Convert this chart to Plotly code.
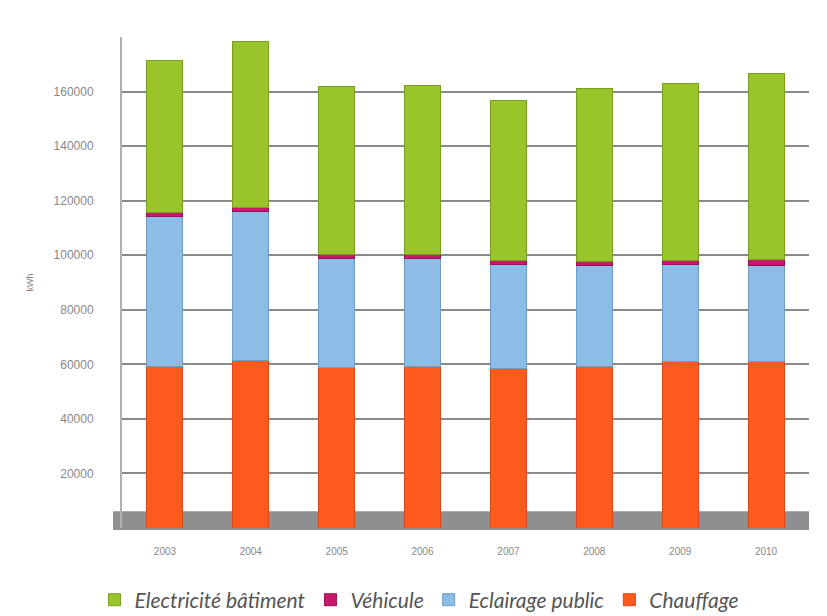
import plotly.graph_objects as go

years = ["2003", "2004", "2005", "2006", "2007", "2008", "2009", "2010"]
chauffage = [59300, 61500, 59000, 59300, 58500, 59300, 61100, 61100]
eclairage = [54900, 54500, 39900, 39600, 38200, 37100, 35600, 35300]
vehicule = [1400, 1500, 1300, 1300, 1500, 1300, 1400, 2000]
electricite = [55700, 61000, 61600, 62000, 58500, 63300, 64800, 68100]

y_ticks = [20000, 40000, 60000, 80000, 100000, 120000, 140000, 160000]
y_tick_text = ["20000", "40000", "60000", "80000", "100000", "120000", "140000", "160000"]

series = [
    ("Chauffage", chauffage, "#FF5A1E", "#D9471A"),
    ("Eclairage public", eclairage, "#8CBDE6", "#6E9CC2"),
    ("Véhicule", vehicule, "#C8186E", "#9A1256"),
    ("Electricité bâtiment", electricite, "#99C42A", "#7A9E20"),
]

fig = go.Figure()
for name, vals, col, edge in series:
    fig.add_trace(go.Bar(
        x=years, y=vals, name=name,
        marker=dict(color=col, line=dict(color=edge, width=1)),
        width=0.42,
    ))

# grey "floor" band under the bars
fig.add_shape(
    type="rect", xref="x domain", yref="y domain",
    x0=-0.013, x1=1, y0=-0.004, y1=0.034,
    fillcolor="#8f8f8f", line=dict(width=0), layer="below",
)

fig.update_layout(
    barmode="stack",
    width=827, height=616,
    margin=dict(l=122, r=18, t=37, b=88, autoexpand=False),
    paper_bgcolor="white",
    plot_bgcolor="white",
    font=dict(family="Liberation Sans, Arial, sans-serif", color="#888"),
    legend=dict(
        orientation="h", xref="paper", x=-0.04, xanchor="left",
        y=-0.105, yanchor="top",
        traceorder="reversed",
        font=dict(family="Lato, sans-serif", size=21, color="#555", style="italic"),
        itemwidth=30,
    ),
)
fig.update_yaxes(
    range=[0, 180000], tickvals=y_ticks, ticktext=y_tick_text,
    tickfont=dict(size=12, color="#888"),
    showgrid=True, gridcolor="#8a8a8a", gridwidth=2,
    showline=True, linecolor="#b0b0b0", linewidth=2,
    ticks="outside", ticklen=24, tickcolor="rgba(0,0,0,0)",
    title=dict(text="kWh", font=dict(size=9, color="#888"), standoff=18),
    zeroline=False,
)
fig.update_xaxes(
    tickfont=dict(size=10, color="#888"),
    showline=False,
    ticks="outside", ticklen=14, tickcolor="rgba(0,0,0,0)",
)

fig.write_html("out.html")
